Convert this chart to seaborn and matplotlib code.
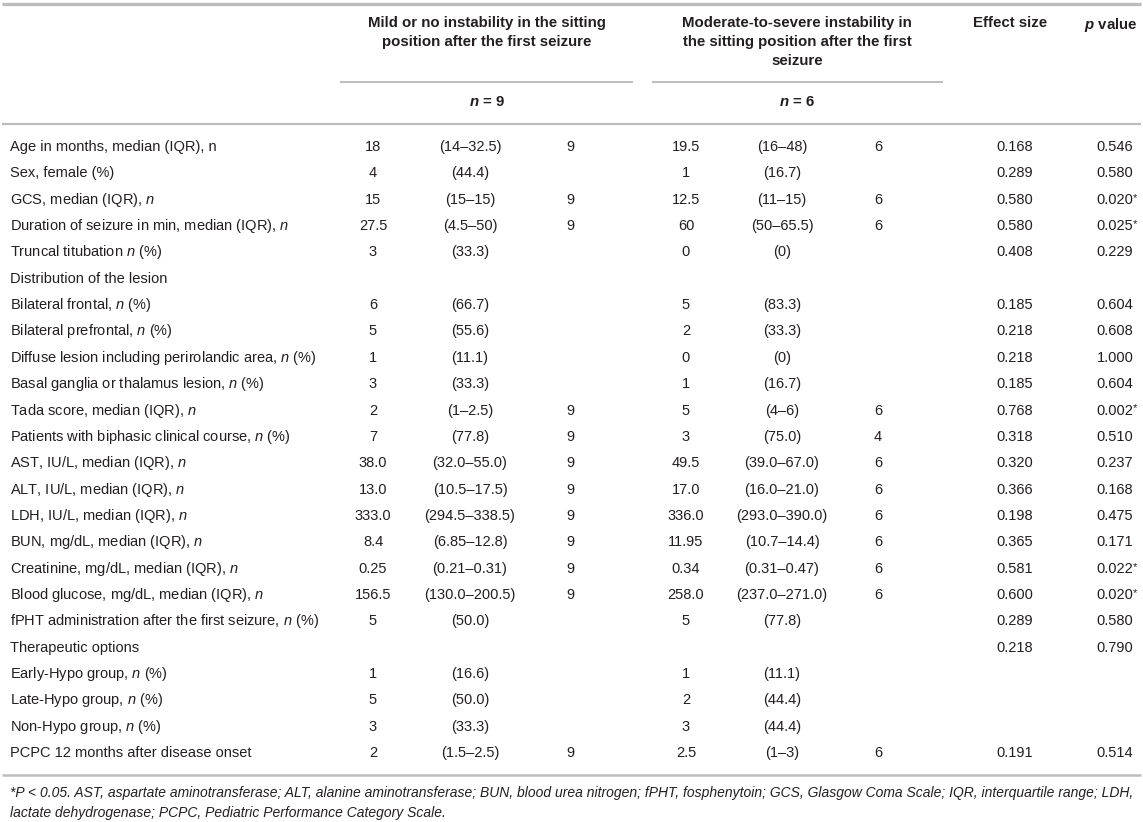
import matplotlib
matplotlib.use("Agg")
import matplotlib.pyplot as plt
import seaborn as sns

# table content
labels = [
    "Age in months, median (IQR), n",
    "Sex, female (%)",
    "GCS, median (IQR), $n$",
    "Duration of seizure in min, median (IQR), $n$",
    "Truncal titubation $n$ (%)",
    "Distribution of the lesion",
    "Bilateral frontal, $n$ (%)",
    "Bilateral prefrontal, $n$ (%)",
    "Diffuse lesion including perirolandic area, $n$ (%)",
    "Basal ganglia or thalamus lesion, $n$ (%)",
    "Tada score, median (IQR), $n$",
    "Patients with biphasic clinical course, $n$ (%)",
    "AST, IU/L, median (IQR), $n$",
    "ALT, IU/L, median (IQR), $n$",
    "LDH, IU/L, median (IQR), $n$",
    "BUN, mg/dL, median (IQR), $n$",
    "Creatinine, mg/dL, median (IQR), $n$",
    "Blood glucose, mg/dL, median (IQR), $n$",
    "fPHT administration after the first seizure, $n$ (%)",
    "Therapeutic options",
    "Early-Hypo group, $n$ (%)",
    "Late-Hypo group, $n$ (%)",
    "Non-Hypo group, $n$ (%)",
    "PCPC 12 months after disease onset",
]
mild_val = ["18", "4", "15", "27.5", "3", "", "6", "5", "1", "3", "2", "7", "38.0", "13.0",
            "333.0", "8.4", "0.25", "156.5", "5", "", "1", "5", "3", "2"]
mild_iqr = ["(14–32.5)", "(44.4)", "(15–15)", "(4.5–50)", "(33.3)", "", "(66.7)", "(55.6)",
            "(11.1)", "(33.3)", "(1–2.5)", "(77.8)", "(32.0–55.0)", "(10.5–17.5)",
            "(294.5–338.5)", "(6.85–12.8)", "(0.21–0.31)", "(130.0–200.5)", "(50.0)", "",
            "(16.6)", "(50.0)", "(33.3)", "(1.5–2.5)"]
mild_n = ["9", "", "9", "9", "", "", "", "", "", "", "9", "9", "9", "9", "9", "9", "9", "9",
          "", "", "", "", "", "9"]
mod_val = ["19.5", "1", "12.5", "60", "0", "", "5", "2", "0", "1", "5", "3", "49.5", "17.0",
           "336.0", "11.95", "0.34", "258.0", "5", "", "1", "2", "3", "2.5"]
mod_iqr = ["(16–48)", "(16.7)", "(11–15)", "(50–65.5)", "(0)", "", "(83.3)", "(33.3)", "(0)",
           "(16.7)", "(4–6)", "(75.0)", "(39.0–67.0)", "(16.0–21.0)", "(293.0–390.0)",
           "(10.7–14.4)", "(0.31–0.47)", "(237.0–271.0)", "(77.8)", "", "(11.1)", "(44.4)",
           "(44.4)", "(1–3)"]
mod_n = ["6", "", "6", "6", "", "", "", "", "", "", "6", "4", "6", "6", "6", "6", "6", "6",
         "", "", "", "", "", "6"]
effect = ["0.168", "0.289", "0.580", "0.580", "0.408", "", "0.185", "0.218", "0.218", "0.185",
          "0.768", "0.318", "0.320", "0.366", "0.198", "0.365", "0.581", "0.600", "0.289",
          "0.218", "", "", "", "0.191"]
pvals = ["0.546", "0.580", "0.020*", "0.025*", "0.229", "", "0.604", "0.608", "1.000", "0.604",
         "0.002*", "0.510", "0.237", "0.168", "0.475", "0.171", "0.022*", "0.020*", "0.580",
         "0.790", "", "", "", "0.514"]

head_mild = "Mild or no instability in the sitting\nposition after the first seizure"
head_mod = "Moderate-to-severe instability in\nthe sitting position after the first\nseizure"
footnote = ("*P < 0.05. AST, aspartate aminotransferase; ALT, alanine aminotransferase; BUN, blood urea "
            "nitrogen; fPHT, fosphenytoin; GCS, Glasgow Coma Scale; IQR, interquartile range; LDH,\n"
            "lactate dehydrogenase; PCPC, Pediatric Performance Category Scale.")

sns.set_style("white")
plt.rcParams["font.family"] = ["Liberation Sans", "DejaVu Sans"]
plt.rcParams["mathtext.fontset"] = "custom"
plt.rcParams["mathtext.rm"] = "Liberation Sans"
plt.rcParams["mathtext.it"] = "Liberation Sans:italic"
plt.rcParams["mathtext.bf"] = "Liberation Sans:bold"
plt.rcParams["mathtext.bfit"] = "Liberation Sans:bold:italic"

W, H = 1143, 822
fig = plt.figure(figsize=(W / 100, H / 100), dpi=100)
ax = fig.add_axes([0, 0, 1, 1])
ax.set_xlim(0, W)
ax.set_ylim(H, 0)
ax.axis("off")

txt = "#231f20"
rule = "#bdbdbd"
body = dict(fontsize=10.5, color=txt, va="center")
head = dict(fontsize=10.8, color=txt, fontweight="bold", linespacing=1.45)

# rules
ax.plot([2, 1141], [4, 4], color=rule, lw=2.4, solid_capstyle="butt")
ax.plot([2, 1141], [124, 124], color=rule, lw=1.6, solid_capstyle="butt")
ax.plot([340, 633], [82, 82], color=rule, lw=1.4, solid_capstyle="butt")
ax.plot([652, 943], [82, 82], color=rule, lw=1.4, solid_capstyle="butt")

# header
ax.text(487, 16, head_mild, ha="center", va="top", **head)
ax.text(797, 16, head_mod, ha="center", va="top", **head)
ax.text(1010, 16, "Effect size", ha="center", va="top", **head)
ax.text(1111, 16, r"$\mathbfit{p}$ value", ha="center", va="top", **head)
ax.text(487, 102, r"$\mathbfit{n}$ = 9", ha="center", va="center", **head)
ax.text(797, 102, r"$\mathbfit{n}$ = 6", ha="center", va="center", **head)

# body rows
y0, dy = 147, 26.35
cols = [(mild_val, 373), (mild_iqr, 470), (mild_n, 570),
        (mod_val, 686), (mod_iqr, 782), (mod_n, 878), (effect, 1015)]
for i, lab in enumerate(labels):
    y = y0 + i * dy
    ax.text(10, y, lab, ha="left", **body)
    for values, x in cols:
        if values[i]:
            ax.text(x, y, values[i], ha="center", **body)
    p = pvals[i]
    if p:
        ax.text(1115, y, p.rstrip("*"), ha="center", **body)
        if p.endswith("*"):
            ax.text(1133, y - 2, "*", ha="left", fontsize=8, color=txt, va="center")

y_end = y0 + (len(labels) - 1) * dy
ax.plot([2, 1141], [y_end + 22, y_end + 22], color=rule, lw=1.8, solid_capstyle="butt")

ax.text(10, y_end + 33, footnote, ha="left", va="top", fontsize=10, color=txt,
        style="italic", linespacing=1.5)

fig.savefig("out.png", dpi=100, facecolor="white")
